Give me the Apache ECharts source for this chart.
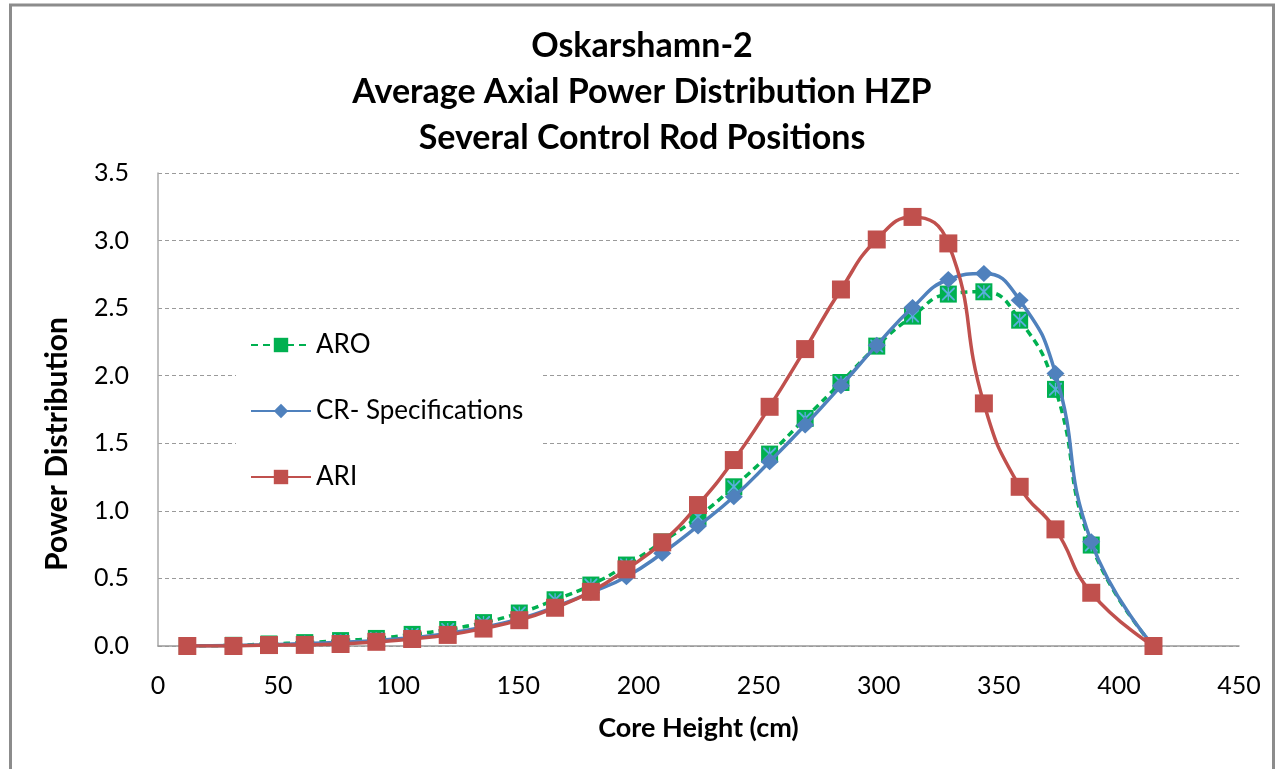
<!DOCTYPE html>
<html>
<head>
<meta charset="utf-8">
<title>Oskarshamn-2</title>
<script src="https://cdn.jsdelivr.net/npm/echarts@6/dist/echarts.min.js"></script>
<style>
  html, body { margin: 0; padding: 0; background: #fff; }
  #main { width: 1276px; height: 769px; }
</style>
</head>
<body>
<div id="main"></div>
<script>
// 堆芯高度 (cm)
var coreHeight = [12.2, 31.4, 46.2, 61.1, 76.0, 90.9, 105.8, 120.6, 135.5, 150.4, 165.3, 180.2, 195.0,
    209.9, 224.8, 239.7, 254.6, 269.4, 284.3, 299.2, 314.1, 329.0, 343.8, 358.7, 373.6, 388.5, 414.4];
// ARO
var aroValues = [0.00, 0.005, 0.015, 0.025, 0.04, 0.056, 0.086, 0.122, 0.173, 0.244, 0.342, 0.451, 0.599,
    0.77, 0.956, 1.178, 1.420, 1.684, 1.950, 2.219, 2.441, 2.604, 2.621, 2.411, 1.899, 0.747, 0.00];
// CR- Specifications
var crValues = [0.00, 0.003, 0.010, 0.018, 0.028, 0.040, 0.062, 0.092, 0.140, 0.200, 0.290, 0.395, 0.513,
    0.686, 0.888, 1.104, 1.363, 1.635, 1.925, 2.226, 2.505, 2.712, 2.757, 2.559, 2.017, 0.771, 0.00];
// ARI
var ariValues = [0.00, 0.00, 0.007, 0.008, 0.015, 0.031, 0.052, 0.082, 0.129, 0.191, 0.283, 0.401, 0.567,
    0.767, 1.043, 1.376, 1.770, 2.197, 2.638, 3.008, 3.175, 2.979, 1.795, 1.178, 0.863, 0.394, 0.00];
var seriesNames = ['ARO', 'CR- Specifications', 'ARI'];
var titleLines = ['Oskarshamn-2', 'Average Axial Power Distribution HZP', 'Several Control Rod Positions'];

function toPoints(ys) {
    var pts = [];
    for (var i = 0; i < coreHeight.length; i++) {
        pts.push([coreHeight[i], ys[i]]);
    }
    return pts;
}

// 方块内的星形标记
var starPath = 'path://M0,0 L2,0 L10,8 L18,0 L20,0 L20,2 L12,10 L20,18 L20,20 L18,20 L10,12 L2,20 L0,20 L0,18 L8,10 L0,2 Z M9,0 L11,0 L11,20 L9,20 Z';

var myChart = echarts.init(document.getElementById('main'));
var font = 'Lato, "Open Sans", sans-serif';

var option = {
    backgroundColor: '#fff',
    animation: false,
    title: {
        text: titleLines.join('\n'),
        left: 642,
        top: 23,
        padding: 0,
        textAlign: 'center',
        textStyle: {
            fontFamily: font,
            fontSize: 34,
            fontWeight: 'bold',
            color: '#000',
            lineHeight: 46
        }
    },
    legend: {
        data: seriesNames,
        orient: 'vertical',
        left: 236,
        top: 318,
        padding: [14, 18, 14, 14],
        itemGap: 40,
        itemWidth: 60,
        itemHeight: 18,
        backgroundColor: '#fff',
        textStyle: {
            fontFamily: font,
            fontSize: 26,
            color: '#000'
        }
    },
    grid: {
        left: 158,
        right: 37,
        top: 173,
        bottom: 123
    },
    xAxis: {
        type: 'value',
        min: 0,
        max: 450,
        interval: 50,
        name: 'Core Height (cm)',
        nameLocation: 'middle',
        nameGap: 69,
        nameTextStyle: {
            fontFamily: font,
            fontSize: 27,
            fontWeight: 'bold',
            color: '#000'
        },
        axisLine: { show: true, lineStyle: { color: '#999', width: 1.5 } },
        axisTick: { show: false },
        splitLine: { show: false },
        axisLabel: {
            margin: 27,
            fontFamily: font,
            fontSize: 25,
            color: '#000'
        }
    },
    yAxis: {
        type: 'value',
        min: 0,
        max: 3.5,
        interval: 0.5,
        axisLine: { show: true, lineStyle: { color: '#aaa', width: 1.5 } },
        axisTick: { show: false },
        splitLine: {
            show: true,
            lineStyle: { color: '#9a9a9a', type: [4, 3], width: 1 }
        },
        axisLabel: {
            margin: 29,
            fontFamily: font,
            fontSize: 25,
            color: '#000',
            formatter: function (v) { return v.toFixed(1); }
        }
    },
    graphic: [
        {
            type: 'rect',
            silent: true,
            shape: { x: 10.5, y: 5, width: 1263, height: 800 },
            style: { fill: null, stroke: '#8c8c8c', lineWidth: 3 }
        },
        {
            type: 'text',
            silent: true,
            x: 57,
            y: 444,
            rotation: Math.PI / 2,
            style: {
                text: 'Power Distribution',
                font: 'bold 30px ' + font,
                fill: '#000',
                align: 'center',
                verticalAlign: 'middle'
            }
        }
    ],
    series: [
        {
            name: 'ARO',
            type: 'line',
            smooth: 0.5,
            data: toPoints(aroValues),
            symbol: 'rect',
            symbolSize: 17,
            itemStyle: { color: '#00B050' },
            lineStyle: { color: '#00B050', width: 3.5, type: [7, 5] },
            z: 2
        },
        {
            name: 'AROstar',
            type: 'line',
            data: toPoints(aroValues),
            symbol: starPath,
            symbolSize: 13,
            itemStyle: { color: '#5AAFDC' },
            lineStyle: { opacity: 0, width: 0 },
            z: 3
        },
        {
            name: 'CR- Specifications',
            type: 'line',
            smooth: 0.5,
            data: toPoints(crValues),
            symbol: 'diamond',
            symbolSize: [18, 17],
            itemStyle: { color: '#4F81BD' },
            lineStyle: { color: '#4F81BD', width: 3.5 },
            z: 4
        },
        {
            name: 'ARI',
            type: 'line',
            smooth: 0.5,
            data: toPoints(ariValues),
            symbol: 'rect',
            symbolSize: 18,
            itemStyle: { color: '#C0504D' },
            lineStyle: { color: '#C0504D', width: 3.5 },
            z: 5
        }
    ]
};
myChart.setOption(option);
</script>
</body>
</html>
